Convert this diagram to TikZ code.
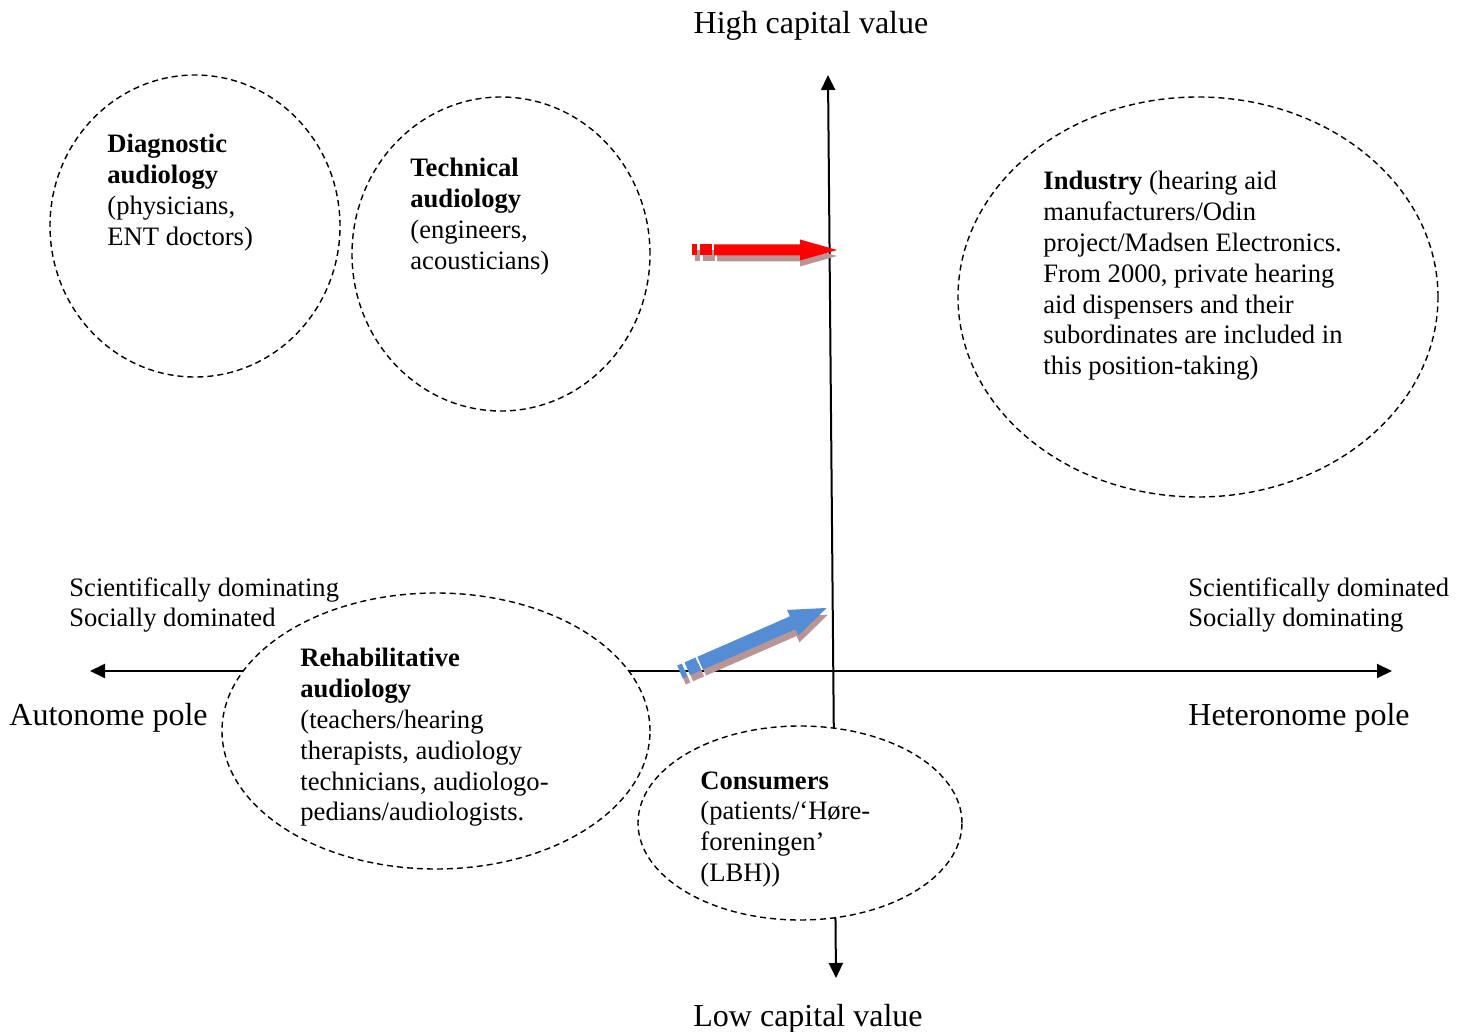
\documentclass[tikz,border=0pt]{standalone}
\usepackage{fontspec}
\setmainfont{Liberation Serif}
\usetikzlibrary{arrows.meta,shapes.geometric}
\newcommand\blockarr[4]{%
  \fill[#1] (0,-#3) rectangle (5,#3);
  \fill[#1] (8,-#3) rectangle (20,#3);
  \fill[#1] (22,-#3) -- ({#2-37},-#3) -- ({#2-37},-#4) -- (#2,0) -- ({#2-37},#4) -- ({#2-37},#3) -- (22,#3) -- cycle;}
\begin{document}
\begin{tikzpicture}[x=0.5pt,y=-0.5pt,
  ell/.style={draw,ellipse,dashed,dash pattern=on 3pt off 2pt,line width=0.7pt,fill=white,inner sep=0pt},
  axis/.style={line width=1pt,{Triangle[length=7.5pt,width=7pt]}-{Triangle[length=7.5pt,width=7pt]}},
  txt/.style={anchor=north west,align=left,inner sep=0pt,font=\fontsize{13.3}{15.4}\selectfont},
  big/.style={inner sep=0pt,font=\fontsize{16}{19}\selectfont}]
\useasboundingbox (0,0) rectangle (1468,1032);
% axes
\coordinate (vtop) at (828,75);
\coordinate (vbot) at (836,978);
\coordinate (hl) at (90,671);
\coordinate (hr) at (1392,671);
\draw[axis] (vbot) -- (vtop);
\draw[axis] (hl) -- (hr);
% ellipses
\node[ell,minimum width=145pt,minimum height=151pt] (diag) at (195,226) {};
\node[ell,minimum width=149pt,minimum height=157pt] (tech) at (501,254) {};
\node[ell,minimum width=240pt,minimum height=200pt] (ind) at (1198,297) {};
\node[ell,minimum width=214pt,minimum height=138pt] (reh) at (436,731) {};
\node[ell,minimum width=162pt,minimum height=97pt] (cons) at (800,823) {};
% texts
\node[txt] (tdiag) at (107,134) {\textbf{Diagnostic}\\\textbf{audiology}\\(physicians,\\ENT doctors)};
\node[txt] (ttech) at (410,158) {\textbf{Technical}\\\textbf{audiology}\\(engineers,\\acousticians)};
\node[txt] (tind) at (1043,171) {\textbf{Industry} (hearing aid\\manufacturers/Odin\\project/Madsen Electronics.\\From 2000, private hearing\\aid dispensers and their\\subordinates are included in\\this position-taking)};
\node[txt] (treh) at (300,648) {\textbf{Rehabilitative}\\\textbf{audiology}\\(teachers/hearing\\therapists, audiology\\technicians, audiologo-\\pedians/audiologists.};
\node[txt] (tcons) at (700,771) {\textbf{Consumers}\\(patients/‘Høre-\\foreningen’\\(LBH))};
\node[txt] (lsci) at (69,577) {Scientifically dominating\\Socially dominated};
\node[txt] (rsci) at (1188,577) {Scientifically dominated\\Socially dominating};
\node[big,anchor=north west] (auto) at (9,703) {Autonome pole};
\node[big,anchor=north west] (hetero) at (1188,703) {Heteronome pole};
\node[big,anchor=north] (high) at (811,11) {High capital value};
\node[big,anchor=north] (low) at (808,1004) {Low capital value};
% block arrows
\definecolor{shadc}{RGB}{185,150,150}
\definecolor{bluea}{RGB}{84,141,212}
\begin{scope}[shift={(695,256)}]
  \blockarr{shadc}{142}{5.5}{10.5}
\end{scope}
\begin{scope}[shift={(692,250)}]
  \blockarr{red}{145}{5.5}{10.5}
\end{scope}
\begin{scope}[shift={(683,678)},rotate=23.6]
  \blockarr{shadc}{158}{7}{14}
\end{scope}
\begin{scope}[shift={(680,672)},rotate=23.6]
  \blockarr{bluea}{160}{7}{14}
\end{scope}
\end{tikzpicture}
\end{document}
